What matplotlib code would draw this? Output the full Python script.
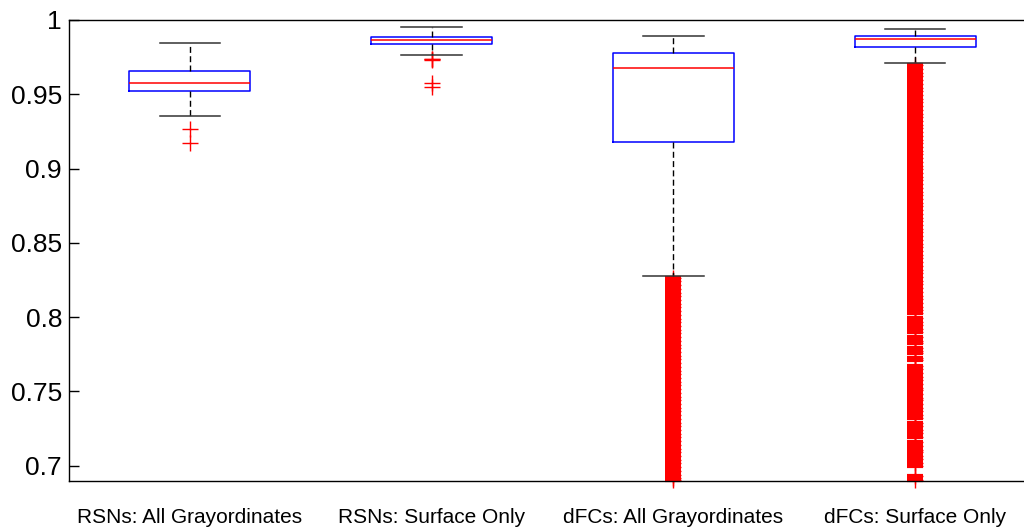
import matplotlib
matplotlib.use("Agg")
import matplotlib.pyplot as plt

plt.rcParams['font.family'] = ['Liberation Sans', 'DejaVu Sans']

# groups shown on the x axis
labels = ["RSNs: All Grayordinates", "RSNs: Surface Only",
          "dFCs: All Grayordinates", "dFCs: Surface Only"]

# box statistics
medians = [0.9577, 0.9863, 0.9675, 0.9870]
q1s = [0.9523, 0.9836, 0.9181, 0.9818]
q3s = [0.9656, 0.9888, 0.9776, 0.9894]
whis_lo = [0.9352, 0.9764, 0.8279, 0.9711]
whis_hi = [0.9845, 0.9955, 0.9894, 0.9939]

# outliers ('+' marks)
fliers_1 = [0.9269, 0.9172]
fliers_2 = [0.9740, 0.9736, 0.9732, 0.9578, 0.9551]
fliers_3 = [0.8265, 0.8240, 0.8215, 0.8190, 0.8165, 0.8140, 0.8115, 0.8090,
            0.8065, 0.8040, 0.8015, 0.7990, 0.7965, 0.7940, 0.7915, 0.7890,
            0.7865, 0.7840, 0.7815, 0.7790, 0.7765, 0.7740, 0.7715, 0.7690,
            0.7665, 0.7640, 0.7615, 0.7590, 0.7565, 0.7540, 0.7515, 0.7490,
            0.7465, 0.7440, 0.7415, 0.7390, 0.7365, 0.7340, 0.7315, 0.7290,
            0.7265, 0.7240, 0.7215, 0.7190, 0.7165, 0.7140, 0.7115, 0.7090,
            0.7065, 0.7040, 0.7015, 0.6990, 0.6965, 0.6940, 0.6915, 0.6905]
fliers_4 = [0.9697, 0.9670, 0.9645, 0.9620, 0.9595, 0.9570, 0.9545, 0.9520,
            0.9495, 0.9470, 0.9445, 0.9420, 0.9395, 0.9370, 0.9345, 0.9320,
            0.9295, 0.9270, 0.9245, 0.9220, 0.9195, 0.9170, 0.9145, 0.9120,
            0.9095, 0.9070, 0.9045, 0.9020, 0.8995, 0.8970, 0.8945, 0.8920,
            0.8895, 0.8870, 0.8845, 0.8820, 0.8795, 0.8770, 0.8745, 0.8720,
            0.8695, 0.8670, 0.8645, 0.8620, 0.8595, 0.8570, 0.8545, 0.8520,
            0.8495, 0.8470, 0.8445, 0.8420, 0.8395, 0.8370, 0.8345, 0.8320,
            0.8295, 0.8270, 0.8245, 0.8220, 0.8195, 0.8170, 0.8145, 0.8120,
            0.8095, 0.8070, 0.8045, 0.8028,
            0.7996, 0.7970, 0.7945, 0.7920, 0.7900, 0.7864, 0.7840, 0.7828,
            0.7795, 0.7770, 0.7760, 0.7728, 0.7714, 0.7672, 0.7648, 0.7623,
            0.7598, 0.7575, 0.7552, 0.7524, 0.7510, 0.7480, 0.7455, 0.7440,
            0.7412, 0.7385, 0.7368, 0.7340, 0.7318, 0.7290, 0.7265, 0.7240,
            0.7220, 0.7195, 0.7158, 0.7133, 0.7108, 0.7090, 0.7062, 0.7045,
            0.7018, 0.6996, 0.6930, 0.6907]
fliers = [fliers_1, fliers_2, fliers_3, fliers_4]

stats = []
for i in range(4):
    stats.append({'med': medians[i], 'q1': q1s[i], 'q3': q3s[i],
                  'whislo': whis_lo[i], 'whishi': whis_hi[i], 'fliers': []})

fig = plt.figure(figsize=(10.24, 5.29), dpi=100)
ax = fig.add_axes([0.0674, 0.0902, 0.9443, 0.872])

pos = [1, 2, 3, 4]
ax.bxp(stats, positions=pos, widths=0.5, capwidths=0.25, showfliers=False,
       manage_ticks=False,
       boxprops=dict(color='#0000ff', linewidth=1.1),
       medianprops=dict(color='#ff0000', linewidth=1.1),
       whiskerprops=dict(color='black', linewidth=1.0, linestyle=(0, (4.3, 2.4))),
       capprops=dict(color='#333333', linewidth=1.1))

# outliers; where they pile up the horizontal strokes are drawn heavier
# so the column reads as solid like in the original export
for i in range(4):
    x = [pos[i]] * len(fliers[i])
    ax.plot(x, fliers[i], linestyle='none', marker='+', markersize=11.5,
            markeredgewidth=1.0, color='#ff0000', clip_on=False, zorder=1)
    if len(fliers[i]) > 10:
        ax.plot(x, fliers[i], linestyle='none', marker='_', markersize=11.5,
                markeredgewidth=3.0, color='#ff0000', clip_on=False, zorder=1)

ax.set_xlim(0.5, 4.5)
ax.set_ylim(0.6895, 1.0)
ax.set_yticks([0.7, 0.75, 0.8, 0.85, 0.9, 0.95, 1.0])
ax.set_yticklabels(["0.7", "0.75", "0.8", "0.85", "0.9", "0.95", "1"])
ax.set_xticks(pos)
ax.set_xticklabels(labels, fontsize=15)
ax.tick_params(axis='y', direction='in', length=7, width=1, labelsize=19, pad=5)
ax.tick_params(axis='x', length=0, pad=19)
for s in ['left', 'top', 'bottom', 'right']:
    ax.spines[s].set_linewidth(1.0)

plt.savefig("out.png", dpi=100)
